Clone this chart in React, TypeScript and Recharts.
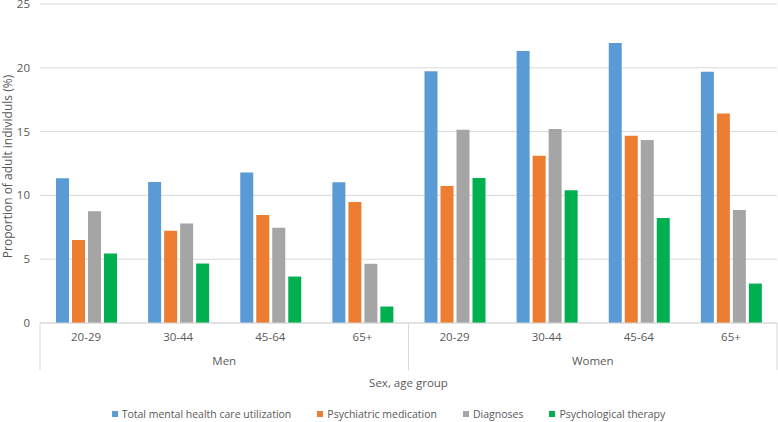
import React from 'react';
import { BarChart, Bar, XAxis, YAxis, CartesianGrid, Legend } from 'recharts';

const ageGroups = ['20-29', '30-44', '45-64', '65+', '20-29', '30-44', '45-64', '65+'];
const sexes = ['Men', 'Men', 'Men', 'Men', 'Women', 'Women', 'Women', 'Women'];
const totalUtilization = [11.34, 11.05, 11.8, 11.03, 19.72, 21.32, 21.95, 19.69];
const psychiatricMedication = [6.5, 7.23, 8.46, 9.48, 10.74, 13.1, 14.67, 16.42];
const diagnoses = [8.75, 7.8, 7.46, 4.64, 15.14, 15.2, 14.35, 8.85];
const psychologicalTherapy = [5.45, 4.66, 3.64, 1.29, 11.37, 10.4, 8.22, 3.09];
const yTicks = [0, 5, 10, 15, 20, 25];

const seriesNames = [
  'Total mental health care utilization',
  'Psychiatric medication',
  'Diagnoses',
  'Psychological therapy',
];
const seriesKeys = ['total', 'medication', 'diagnoses', 'therapy'];
const seriesColors = ['#5B9BD5', '#ED7D31', '#A5A5A5', '#00B050'];

const data = ageGroups.map((age, i) => ({
  age,
  sex: sexes[i],
  total: totalUtilization[i],
  medication: psychiatricMedication[i],
  diagnoses: diagnoses[i],
  therapy: psychologicalTherapy[i],
}));

const FONT = '"Open Sans", sans-serif';
const TEXT = '#595959';
const GRID = '#D9D9D9';

const SexTick = (props: any) => {
  const { x, y, payload } = props;
  const half = payload.offset || 0;
  return (
    <g>
      <text x={x} y={y} dy="0.71em" textAnchor="middle" fill={TEXT} fontSize={11.5} fontFamily={FONT}>
        {payload.value}
      </text>
      <line x1={x - half} x2={x - half} y1={y - 34} y2={y + 13} stroke={GRID} strokeWidth={1} />
      <line x1={x + half} x2={x + half} y1={y - 34} y2={y + 13} stroke={GRID} strokeWidth={1} />
    </g>
  );
};

const LegendContent = () => (
  <div
    style={{
      display: 'flex',
      justifyContent: 'center',
      alignItems: 'center',
      height: 16,
      fontFamily: FONT,
      fontSize: 10.5,
      color: TEXT,
      whiteSpace: 'nowrap',
    }}
  >
    {seriesNames.map((n, i) => (
      <div key={n} style={{ display: 'flex', alignItems: 'center', marginLeft: i === 0 ? 0 : 26 }}>
        <span style={{ width: 6, height: 6, background: seriesColors[i], display: 'inline-block', marginRight: 4 }} />
        <span>{n}</span>
      </div>
    ))}
  </div>
);

const YLabel = (props: any) => {
  const { viewBox } = props;
  const cx = viewBox.x + 7;
  const cy = viewBox.y + viewBox.height / 2 + 3;
  return (
    <text
      x={cx}
      y={cy}
      transform={`rotate(-90, ${cx}, ${cy})`}
      textAnchor="middle"
      dominantBaseline="central"
      fill={TEXT}
      fontSize={12}
      fontFamily={FONT}
    >
      Proportion of adult individuls (%)
    </text>
  );
};

export default function App() {
  return (
    <div style={{ position: 'absolute', left: 0, top: 0, background: '#fff' }}>
      <BarChart
        width={778}
        height={422}
        data={data}
        margin={{ top: 4, right: 1, bottom: 0, left: 0 }}
        barSize={13}
        barGap={3}
      >
        <CartesianGrid vertical={false} stroke={GRID} />
        <XAxis
          xAxisId="age"
          dataKey="age"
          axisLine={{ stroke: GRID }}
          tickLine={false}
          tickSize={0}
          tickMargin={10}
          height={24}
          tick={{ fill: TEXT, fontSize: 11.5, fontFamily: FONT }}
          interval={0}
        />
        <XAxis
          xAxisId="sex"
          dataKey="sex"
          allowDuplicatedCategory={false}
          axisLine={false}
          tickLine={false}
          tickSize={0}
          tickMargin={10}
          height={59}
          tick={<SexTick />}
          interval={0}
          label={{
            value: 'Sex, age group',
            position: 'insideBottom',
            offset: 19,
            fill: TEXT,
            fontSize: 11.5,
            fontFamily: FONT,
          }}
        />
        <YAxis
          domain={[0, 25]}
          ticks={yTicks}
          width={40}
          axisLine={false}
          tickLine={false}
          tickSize={0}
          tickMargin={10}
          interval={0}
          tick={{ fill: TEXT, fontSize: 11.5, fontFamily: FONT }}
          label={<YLabel />}
        />
        <Legend verticalAlign="bottom" height={16} content={<LegendContent />} />
        {seriesKeys.map((k, i) => (
          <Bar
            key={k}
            xAxisId="age"
            dataKey={k}
            name={seriesNames[i]}
            fill={seriesColors[i]}
            isAnimationActive={false}
          />
        ))}
      </BarChart>
    </div>
  );
}
